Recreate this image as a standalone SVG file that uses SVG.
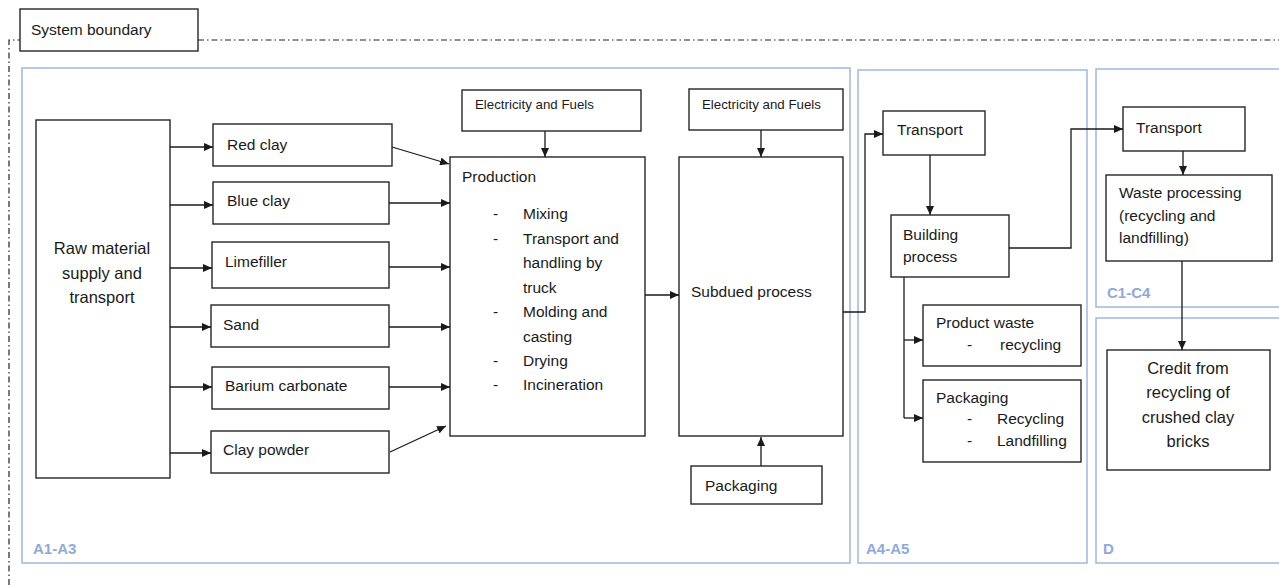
<svg xmlns="http://www.w3.org/2000/svg" width="1279" height="585" viewBox="0 0 1279 585">
<style>
.box{fill:#fff;stroke:#262626;stroke-width:1.4}
.stage{fill:none;stroke:#9fb8e0;stroke-width:1.5}
.t{font-family:"Liberation Sans",Arial,sans-serif;font-size:15.5px;fill:#1a1a1a}
.big{font-size:16.5px}
.s{font-family:"Liberation Sans",Arial,sans-serif;font-size:13.3px;fill:#1a1a1a}
.lab{font-family:"Liberation Sans",Arial,sans-serif;font-size:15px;font-weight:bold;fill:#8eaadb}
.c{fill:none;stroke:#1a1a1a;stroke-width:1.3;marker-end:url(#ah)}
.cn{fill:none;stroke:#1a1a1a;stroke-width:1.3}
</style>
<defs>
<marker id="ah" markerUnits="userSpaceOnUse" markerWidth="10" markerHeight="8" refX="9" refY="4" orient="auto">
<path d="M0,0 L9,4 L0,8 z" fill="#1a1a1a"/>
</marker>
</defs>
<rect width="1279" height="585" fill="#fff"/>

<g id="system-boundary">
<path d="M9,585 V40 H20 M198,40 H1279" fill="none" stroke="#222" stroke-width="1.2" stroke-dasharray="6,3,1.5,3"/>
<rect class="box" x="20" y="9" width="178" height="42"/>
<text class="t" x="31" y="35">System boundary</text>
</g>

<g id="stage-a1-a3"><rect class="stage" x="22" y="68" width="828" height="495"/><text class="lab" x="33" y="554">A1-A3</text></g>
<g id="stage-a4-a5"><rect class="stage" x="858" y="70" width="229" height="493"/><text class="lab" x="866" y="554">A4-A5</text></g>
<g id="stage-c1-c4"><rect class="stage" x="1096" y="69" width="190" height="238"/><text class="lab" x="1107" y="298">C1-C4</text></g>
<g id="stage-d"><rect class="stage" x="1096" y="318" width="190" height="245"/><text class="lab" x="1103" y="554">D</text></g>

<g id="raw-material"><rect class="box" x="36" y="120" width="134" height="358"/>
<text class="t big" text-anchor="middle"><tspan x="102" y="254">Raw material</tspan><tspan x="102" y="279">supply and</tspan><tspan x="102" y="303">transport</tspan></text></g>
<g id="red-clay"><rect class="box" x="213" y="124" width="179" height="42"/><text class="t" x="227" y="150">Red clay</text></g>
<g id="blue-clay"><rect class="box" x="213" y="182" width="176" height="42"/><text class="t" x="227" y="206">Blue clay</text></g>
<g id="limefiller"><rect class="box" x="212" y="242" width="177" height="46"/><text class="t" x="225" y="267">Limefiller</text></g>
<g id="sand"><rect class="box" x="211" y="305" width="178" height="42"/><text class="t" x="223" y="330">Sand</text></g>
<g id="barium-carbonate"><rect class="box" x="212" y="367" width="177" height="42"/><text class="t" x="225" y="391">Barium carbonate</text></g>
<g id="clay-powder"><rect class="box" x="211" y="431" width="178" height="42"/><text class="t" x="223" y="455">Clay powder</text></g>

<g id="elec-1"><rect class="box" x="462" y="90" width="179" height="41"/><text class="s" x="475" y="109">Electricity and Fuels</text></g>
<g id="elec-2"><rect class="box" x="689" y="89" width="154" height="41"/><text class="s" x="702" y="109">Electricity and Fuels</text></g>

<g id="production"><rect class="box" x="450" y="157" width="195" height="279"/>
<text class="t" x="462" y="182">Production</text>
<text class="t"><tspan x="493" y="219">-</tspan><tspan x="493" y="244">-</tspan><tspan x="493" y="317">-</tspan><tspan x="493" y="366">-</tspan><tspan x="493" y="390">-</tspan></text>
<text class="t"><tspan x="523" y="219">Mixing</tspan><tspan x="523" y="244">Transport and</tspan><tspan x="523" y="268">handling by</tspan><tspan x="523" y="293">truck</tspan><tspan x="523" y="317">Molding and</tspan><tspan x="523" y="342">casting</tspan><tspan x="523" y="366">Drying</tspan><tspan x="523" y="390">Incineration</tspan></text></g>

<g id="subdued"><rect class="box" x="679" y="157" width="164" height="279"/><text class="t" x="691" y="297">Subdued process</text></g>
<g id="packaging-a"><rect class="box" x="691" y="466" width="131" height="38"/><text class="t" x="705" y="491">Packaging</text></g>

<g id="transport-a"><rect class="box" x="883" y="111" width="102" height="44"/><text class="t" x="897" y="135">Transport</text></g>
<g id="building"><rect class="box" x="891" y="215" width="118" height="62"/><text class="t"><tspan x="903" y="240">Building</tspan><tspan x="903" y="262">process</tspan></text></g>
<g id="product-waste"><rect class="box" x="923" y="305" width="158" height="61"/><text class="t" x="936" y="328">Product waste</text><text class="t" x="967" y="350">-</text><text class="t" x="1000" y="350">recycling</text></g>
<g id="packaging-b"><rect class="box" x="923" y="380" width="158" height="82"/><text class="t" x="936" y="403">Packaging</text><text class="t"><tspan x="967" y="424">-</tspan><tspan x="967" y="446">-</tspan></text><text class="t"><tspan x="997" y="424">Recycling</tspan><tspan x="997" y="446">Landfilling</tspan></text></g>

<g id="transport-c"><rect class="box" x="1123" y="107" width="122" height="44"/><text class="t" x="1136" y="133">Transport</text></g>
<g id="waste-processing"><rect class="box" x="1106" y="175" width="166" height="86"/><text class="t"><tspan x="1119" y="198">Waste processing</tspan><tspan x="1119" y="221">(recycling and</tspan><tspan x="1119" y="243">landfilling)</tspan></text></g>
<g id="credit"><rect class="box" x="1107" y="350" width="163" height="120"/><text class="t big" text-anchor="middle"><tspan x="1188" y="374">Credit from</tspan><tspan x="1188" y="398">recycling of</tspan><tspan x="1188" y="423">crushed clay</tspan><tspan x="1188" y="447">bricks</tspan></text></g>

<g id="connectors">
<line class="c" x1="170" y1="147" x2="213" y2="147"/>
<line class="c" x1="170" y1="205" x2="213" y2="205"/>
<line class="c" x1="170" y1="268" x2="212" y2="268"/>
<line class="c" x1="170" y1="327" x2="211" y2="327"/>
<line class="c" x1="170" y1="387" x2="212" y2="387"/>
<line class="c" x1="170" y1="453" x2="211" y2="453"/>
<line class="c" x1="392" y1="147" x2="449" y2="164"/>
<line class="c" x1="389" y1="203" x2="450" y2="203"/>
<line class="c" x1="389" y1="267" x2="450" y2="267"/>
<line class="c" x1="389" y1="327" x2="450" y2="327"/>
<line class="c" x1="389" y1="387" x2="450" y2="387"/>
<line class="c" x1="390" y1="452" x2="446" y2="426"/>
<line class="c" x1="545" y1="131" x2="545" y2="157"/>
<line class="c" x1="761" y1="130" x2="761" y2="157"/>
<line class="c" x1="645" y1="295" x2="679" y2="295"/>
<line class="c" x1="761" y1="466" x2="761" y2="437"/>
<polyline class="c" points="843,312 865,312 865,134 883,134"/>
<line class="c" x1="930" y1="155" x2="930" y2="215"/>
<polyline class="c" points="1009,248 1071,248 1071,129 1123,129"/>
<line class="cn" x1="904" y1="277" x2="904" y2="418"/>
<line class="c" x1="904" y1="340" x2="923" y2="340"/>
<line class="c" x1="904" y1="418" x2="923" y2="418"/>
<line class="c" x1="1183" y1="151" x2="1183" y2="175"/>
<line class="c" x1="1182" y1="261" x2="1182" y2="350"/>
</g>
</svg>
